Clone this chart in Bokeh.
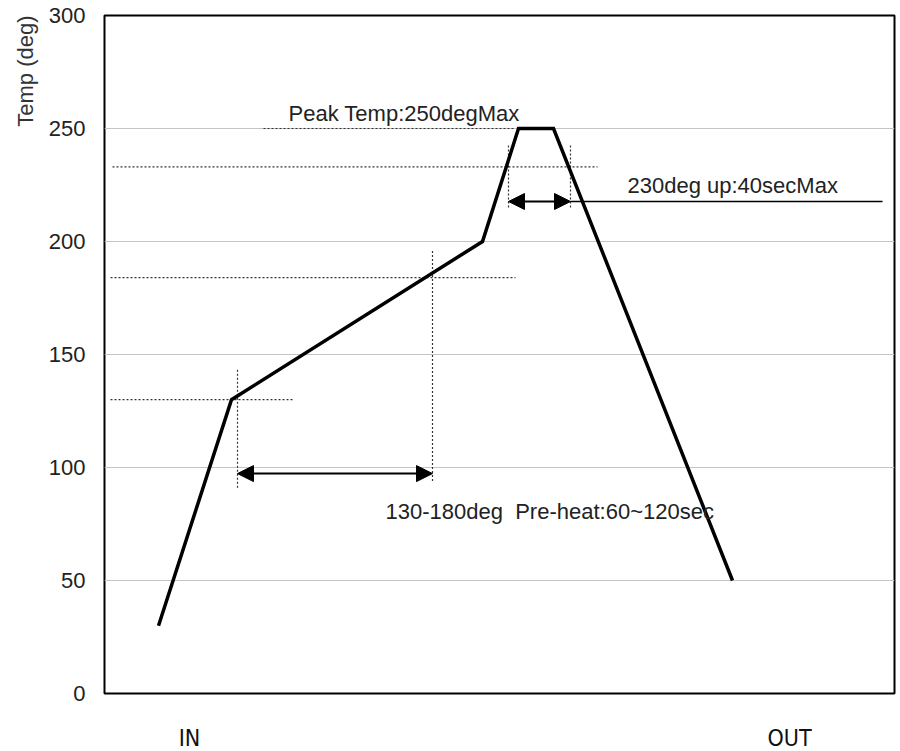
from bokeh.plotting import figure
from bokeh.models import FixedTicker, Arrow, NormalHead, Range1d, Title
from bokeh.core.properties import value
from bokeh.embed import file_html
from bokeh.resources import INLINE

# ---- data ----
profile_time = [54, 127, 378, 414, 449, 628]
profile_temp = [30, 130, 200, 250, 250, 50]

y_ticks = [0, 50, 100, 150, 200, 250, 300]
x_tick_pos = [85, 685]
x_tick_labels = ["IN", "OUT"]

# dotted guide lines (horizontal)
h_x0 = [159, 8, 6, 6]
h_x1 = [409, 493, 411, 189]
h_y = [250, 233, 184, 130]
# dotted guide lines (vertical)
v_x = [133, 328, 404, 466]
v_y0 = [91, 94, 215, 215]
v_y1 = [144, 196, 243, 243]

# double arrows
arr_x0 = [133, 404]
arr_x1 = [328, 466]
arr_y = [97.3, 217.7]

# leader line
lead_x = [466, 778]
lead_y = [217.7, 217.7]

notes_text = ["Peak Temp:250degMax", "230deg up:40secMax", "130-180deg\u00a0 Pre-heat:60~120sec"]
notes_x = [184, 523, 281]
notes_y = [256.5, 224.8, 80.5]

FONT = "Liberation Sans"

p = figure(frame_width=790, frame_height=678,
           x_range=Range1d(0, 790), y_range=Range1d(0, 300),
           output_backend="svg", toolbar_location=None,
           min_border_left=104, min_border_top=15, min_border_right=6, min_border_bottom=57,
           background_fill_color="white", border_fill_color="white")

p.outline_line_color = "black"
p.outline_line_width = 2

p.xgrid.visible = False
p.ygrid.grid_line_color = "#c4c4c4"
p.ygrid.grid_line_width = 1

p.yaxis.ticker = FixedTicker(ticks=y_ticks)
p.yaxis.axis_line_color = None
p.yaxis.major_tick_line_color = None
p.yaxis.minor_tick_line_color = None
p.yaxis.major_tick_out = 0
p.yaxis.major_label_standoff = 19
p.yaxis.major_label_text_font = FONT
p.yaxis.major_label_text_font_size = "22px"
p.yaxis.major_label_text_color = "#222222"

p.xaxis.ticker = FixedTicker(ticks=x_tick_pos)
p.xaxis.major_label_overrides = {pos: lab for pos, lab in zip(x_tick_pos, x_tick_labels)}
p.xaxis.axis_line_color = None
p.xaxis.major_tick_line_color = None
p.xaxis.minor_tick_line_color = None
p.xaxis.major_tick_out = 0
p.xaxis.major_label_standoff = 31
p.xaxis.major_label_text_font = "DejaVu Sans Condensed"
p.xaxis.major_label_text_font_size = "23px"
p.xaxis.major_label_text_color = "#111111"

# dotted guides
p.segment(x0=h_x0, y0=h_y, x1=h_x1, y1=h_y, line_color="#333333", line_width=1.2, line_dash="2 2")
p.segment(x0=v_x, y0=v_y0, x1=v_x, y1=v_y1, line_color="#333333", line_width=1.2, line_dash="2 2")

# leader line
p.line(lead_x, lead_y, line_color="black", line_width=1.5)

# profile
p.line(profile_time, profile_temp, line_color="black", line_width=3.5, line_join="miter")

# double arrows
for xa, xb, ya in zip(arr_x0, arr_x1, arr_y):
    p.add_layout(Arrow(x_start=xa, y_start=ya, x_end=xb, y_end=ya,
                       line_color="black", line_width=2,
                       start=NormalHead(size=16, fill_color="black", line_color="black"),
                       end=NormalHead(size=16, fill_color="black", line_color="black")))

# notes
p.text(x=notes_x, y=notes_y, text=notes_text, text_font=value(FONT),
       text_font_size="22px", text_baseline="middle", text_align="left", text_color="#222222")

# axis title placed at top-left (vertical)
p.add_layout(Title(text="Temp (deg)", align="right", text_font=FONT, text_font_size="22px",
                   text_font_style="normal", text_color="#333333", standoff=15), "left")

open("out.html", "w").write(file_html(p, INLINE))
